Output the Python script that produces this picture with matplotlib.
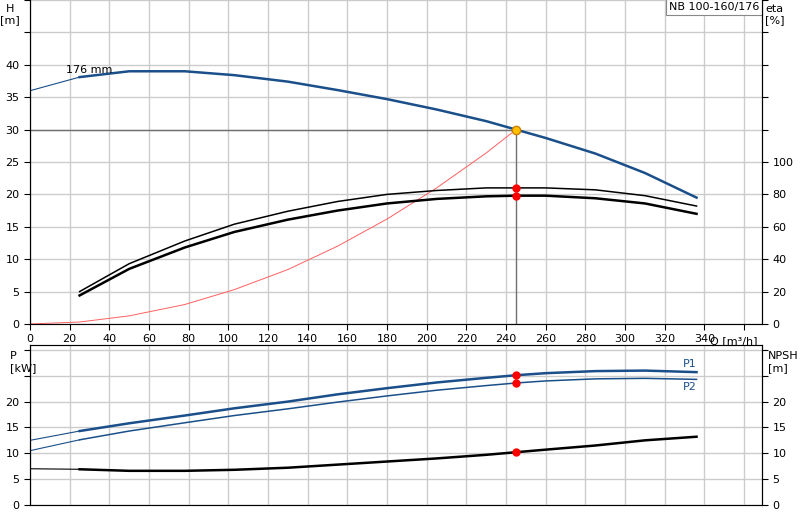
import matplotlib
matplotlib.use("Agg")
import matplotlib.pyplot as plt
import numpy as np

q = [25, 50, 78, 103, 130, 155, 180, 205, 230, 245, 260, 285, 310, 336]
h = [38.1, 39, 39, 38.4, 37.4, 36.1, 34.7, 33.1, 31.3, 30, 28.7, 26.3, 23.3, 19.5]
h_ext_q = [0, 25]; h_ext = [36, 38.1]
eta1 = [20, 37.2, 51.2, 61.6, 69.6, 75.6, 80, 82.4, 84, 84, 84, 82.8, 79.2, 72.8]
eta2 = [17.6, 34, 47.2, 56.8, 64.4, 70, 74.4, 77.2, 78.8, 79.2, 79.2, 77.6, 74.4, 68]
sys_q = [0, 25, 50, 78, 103, 130, 155, 180, 205, 230, 245]
sys_h = [0, 0.3, 1.25, 3, 5.3, 8.4, 12, 16.2, 21, 26.4, 30]
p1 = [14.3, 15.8, 17.3, 18.7, 20, 21.4, 22.6, 23.7, 24.6, 25.1, 25.5, 25.9, 26, 25.7]
p1_ext = [12.5, 14.3]
p2 = [12.6, 14.3, 15.9, 17.3, 18.6, 19.9, 21.1, 22.2, 23.1, 23.6, 24, 24.4, 24.5, 24.3]
p2_ext = [10.5, 12.6]
npsh = [6.9, 6.6, 6.6, 6.8, 7.2, 7.8, 8.4, 9, 9.7, 10.2, 10.7, 11.5, 12.5, 13.2]
npsh_ext = [7, 6.9]
dq, dh = 245, 30
d_eta = [84, 79.2]; d_p = [25.1, 23.6]; d_npsh = 10.2

blue = "#1a4f8a"; grid = "#cccccc"
fig = plt.figure(figsize=(8, 5.2), dpi=100)
ax = fig.add_axes([0.0375, 0.377, 0.915, 0.623])
ax2 = fig.add_axes([0.0375, 0.029, 0.915, 0.308])
for a in (ax, ax2):
    a.set_xlim(0, 369)
    a.set_xticks(np.arange(0, 369, 20))
    a.grid(True, color=grid, lw=1)
    a.set_axisbelow(True)
    for s in ("top", "bottom"):
        a.spines[s].set_color("#888888")
    a.tick_params(labelsize=8, length=4)
ax.spines["top"].set_visible(False)
ax.set_ylim(0, 50)
ax.set_yticks(np.arange(0, 51, 5))
ax.set_yticklabels([str(v) if v <= 40 else "" for v in range(0, 51, 5)])
ax.set_xticklabels([str(v) if v <= 340 else "" for v in range(0, 369, 20)])
ax.plot(h_ext_q, h_ext, color=blue, lw=0.8)
ax.plot(q, h, color=blue, lw=1.8)
ax.plot(sys_q, sys_h, color="#ff6060", lw=0.7)
ax.plot([0, dq], [dh, dh], color="#707070", lw=1)
ax.plot([dq, dq], [0, dh], color="#707070", lw=1)
ax.plot(q, [e / 4 for e in eta1], color="black", lw=1.1)
ax.plot(q, [e / 4 for e in eta2], color="black", lw=1.8)
for e in d_eta:
    ax.plot(dq, e / 4, "o", color="red", ms=5)
ax.plot(dq, dh, "o", color="#ffc000", mec="#d08000", ms=6)
ax.text(18, 38.8, "176 mm", fontsize=8)
axr = ax.twinx()
axr.set_ylim(0, 200)
axr.set_yticks(np.arange(0, 201, 20))
axr.set_yticklabels([str(v) if v <= 100 else "" for v in range(0, 201, 20)])
axr.tick_params(labelsize=8, length=4)
axr.spines["top"].set_visible(False)
fig.text(0.012, 0.993, "H\n[m]", fontsize=8, va="top", ha="center", linespacing=1.2)
fig.text(0.968, 0.993, "eta\n[%]", fontsize=8, va="top", ha="center", linespacing=1.2)
ax.text(0.996, 0.993, "NB 100-160/176", transform=ax.transAxes, fontsize=8, ha="right", va="top",
        bbox=dict(fc="white", ec="#888888", lw=0.8, pad=2))
ax.text(343, -1.8, "Q [m³/h]", fontsize=8, va="top")

ax2.set_ylim(0, 31)
ax2.set_yticks(np.arange(0, 31, 5))
ax2.set_yticklabels([str(v) if v <= 20 else "" for v in range(0, 31, 5)])
ax2.tick_params(axis="x", labelbottom=False, length=0)
ax2.plot([0, 25], p1_ext, color=blue, lw=0.8)
ax2.plot(q, p1, color=blue, lw=1.8)
ax2.plot([0, 25], p2_ext, color=blue, lw=0.8)
ax2.plot(q, p2, color=blue, lw=1.1)
ax2.plot([0, 25], npsh_ext, color="black", lw=0.8)
ax2.plot(q, npsh, color="black", lw=1.8)
for p in d_p:
    ax2.plot(dq, p, "o", color="red", ms=5)
ax2.plot(dq, d_npsh, "o", color="red", ms=5)
ax2.text(336, 26.6, "P1", fontsize=8, color=blue, ha="right")
ax2.text(336, 23.8, "P2", fontsize=8, color=blue, ha="right", va="top")
ax2r = ax2.twinx()
ax2r.set_ylim(0, 31)
ax2r.set_yticks(np.arange(0, 31, 5))
ax2r.set_yticklabels([str(v) if v <= 20 else "" for v in range(0, 31, 5)])
ax2r.tick_params(labelsize=8, length=4)
fig.text(0.012, 0.325, "P\n[kW]", fontsize=8, va="top", ha="left", linespacing=1.2)
fig.text(0.96, 0.325, "NPSH\n[m]", fontsize=8, va="top", ha="left", linespacing=1.2)
fig.savefig("out.png", dpi=100)
